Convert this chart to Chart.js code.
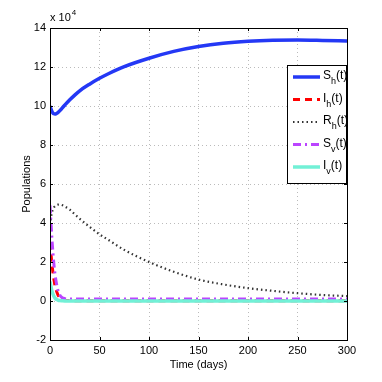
<!DOCTYPE html>
<html>
<head>
<meta charset="utf-8">
<script src="https://cdn.jsdelivr.net/npm/chart.js@4.4.1/dist/chart.umd.min.js"></script>
<style>
  html, body { margin: 0; padding: 0; background: #fff; }
  #wrap { width: 382px; height: 382px; }
</style>
</head>
<body>
<div id="wrap"><canvas id="myChart" width="382" height="382"></canvas></div>
<script>
// time points (days)
var days = [0, 1, 2, 3, 4, 5, 6, 8, 10, 12, 15, 20, 25, 30, 40, 50, 60, 75, 100, 125, 150, 175, 200, 225, 250, 275, 300];

// populations, in units of 10^4
var sh = [10.0, 9.85, 9.72, 9.64, 9.6, 9.59, 9.6, 9.66, 9.76, 9.88, 10.05, 10.32, 10.56, 10.78, 11.12, 11.42, 11.68, 12.02, 12.45, 12.8, 13.05, 13.22, 13.32, 13.37, 13.38, 13.36, 13.33];
var ih = [3.0, 2.4, 1.9, 1.45, 1.1, 0.8, 0.6, 0.32, 0.16, 0.08, 0.04, 0.02, 0.01, 0.01, 0.01, 0.01, 0.01, 0.01, 0.01, 0.01, 0.01, 0.01, 0.01, 0.01, 0.01, 0.01, 0.01];
var rh = [3.9, 4.3, 4.55, 4.7, 4.8, 4.86, 4.9, 4.94, 4.95, 4.92, 4.85, 4.68, 4.45, 4.22, 3.8, 3.42, 3.1, 2.62, 2.0, 1.5, 1.1, 0.85, 0.66, 0.52, 0.4, 0.31, 0.25];
var sv = [4.9, 4.0, 3.15, 2.45, 1.85, 1.4, 1.05, 0.55, 0.3, 0.18, 0.12, 0.1, 0.1, 0.1, 0.1, 0.1, 0.1, 0.1, 0.1, 0.1, 0.1, 0.1, 0.1, 0.1, 0.1, 0.1, 0.1];
var iv = [1.0, 0.72, 0.5, 0.35, 0.24, 0.16, 0.1, 0.05, 0.02, 0.01, 0, 0, 0, 0, 0, 0, 0, 0, 0, 0, 0, 0, 0, 0, 0, 0, 0];

var seriesNames = [['S', 'h'], ['I', 'h'], ['R', 'h'], ['S', 'v'], ['I', 'v']];
var xTicks = [0, 50, 100, 150, 200, 250, 300];
var yTicks = [-2, 0, 2, 4, 6, 8, 10, 12, 14];

var FONT = '"Liberation Sans", Arial, Helvetica, sans-serif';

function pts(vals) {
    return days.map(function(d, i){ return {x: d, y: vals[i]}; });
}

var styles = [
    {color: '#2438f5', width: 3.5, dash: []},
    {color: '#ff0000', width: 3, dash: [7, 5]},
    {color: '#333333', width: 2.2, dash: [1.5, 3]},
    {color: '#bb44ff', width: 3, dash: [8, 4, 2, 4]},
    {color: '#72f0d6', width: 3.5, dash: []}
];

var allVals = [sh, ih, rh, sv, iv];
var datasets = allVals.map(function(v, i){
    return {
        label: seriesNames[i][0] + seriesNames[i][1] + '(t)',
        data: pts(v),
        borderColor: styles[i].color,
        borderWidth: styles[i].width,
        borderDash: styles[i].dash,
        pointRadius: 0,
        fill: false,
        cubicInterpolationMode: 'monotone',
        order: 5 - i
    };
});

// box, inner ticks, exponent label and legend drawn matlab-style
var matlabLook = {
    id: 'matlabLook',
    afterDraw: function(chart){
        var c = chart.ctx, a = chart.chartArea;
        var xs = chart.scales.x, ys = chart.scales.y;
        c.save();
        c.strokeStyle = '#000';
        c.lineWidth = 1;
        c.setLineDash([]);
        c.strokeRect(a.left + 0.5, a.top + 0.5, a.right - a.left, a.bottom - a.top);
        c.beginPath();
        xTicks.forEach(function(t){
            var px = Math.round(xs.getPixelForValue(t)) + 0.5;
            c.moveTo(px, a.bottom); c.lineTo(px, a.bottom - 3);
            c.moveTo(px, a.top); c.lineTo(px, a.top + 3);
        });
        yTicks.forEach(function(t){
            var py = Math.round(ys.getPixelForValue(t)) + 0.5;
            c.moveTo(a.left, py); c.lineTo(a.left + 3, py);
            c.moveTo(a.right, py); c.lineTo(a.right - 3, py);
        });
        c.stroke();

        // x 10^4
        c.fillStyle = '#000';
        c.textBaseline = 'alphabetic';
        c.textAlign = 'left';
        c.font = '11px ' + FONT;
        c.fillText('x 10', a.left, a.top - 7);
        var w = c.measureText('x 10').width;
        c.font = '8px ' + FONT;
        c.fillText('4', a.left + w + 1, a.top - 13);

        // legend
        var lx = 287, ly = 65, lw = 59, lh = 118;
        c.fillStyle = '#fff';
        c.fillRect(lx, ly, lw, lh);
        c.strokeStyle = '#000';
        c.strokeRect(lx + 0.5, ly + 0.5, lw, lh);
        seriesNames.forEach(function(n, i){
            var yy = ly + 12 + i * 22.5;
            var st = styles[i];
            c.strokeStyle = st.color;
            c.lineWidth = st.width;
            c.setLineDash(st.dash);
            c.beginPath();
            c.moveTo(293, yy); c.lineTo(320, yy);
            c.stroke();
            c.setLineDash([]);
            c.fillStyle = '#000';
            c.font = '12px ' + FONT;
            c.fillText(n[0], 323, yy + 2);
            var w1 = c.measureText(n[0]).width;
            c.font = '9px ' + FONT;
            c.fillText(n[1], 323 + w1, yy + 7);
            var w2 = c.measureText(n[1]).width;
            c.font = '12px ' + FONT;
            c.fillText('(t)', 323 + w1 + w2, yy + 2);
        });
        c.restore();
    }
};

new Chart(document.getElementById('myChart'), {
    type: 'line',
    data: { datasets: datasets },
    plugins: [matlabLook],
    options: {
        responsive: false,
        animation: false,
        layout: { padding: { left: 0, right: 35, top: 28, bottom: 0 } },
        plugins: { legend: { display: false }, tooltip: { enabled: false } },
        scales: {
            x: {
                type: 'linear', min: 0, max: 300,
                afterBuildTicks: function(s){ s.ticks = xTicks.map(function(v){ return {value: v}; }); },
                afterFit: function(s){ s.height = 42; },
                ticks: { color: '#000', font: { family: FONT, size: 11 }, padding: 4, maxRotation: 0 },
                grid: { color: '#bbbbbb', drawTicks: false, lineWidth: 1 },
                border: { display: false, dash: [1, 3] },
                title: { display: true, text: 'Time (days)', color: '#000', font: { family: FONT, size: 11 }, padding: { top: 3, bottom: 10 } }
            },
            y: {
                min: -2, max: 14,
                afterBuildTicks: function(s){ s.ticks = yTicks.map(function(v){ return {value: v}; }); },
                afterFit: function(s){ s.width = 50; },
                ticks: { color: '#000', font: { family: FONT, size: 11 }, padding: 4 },
                grid: { color: '#bbbbbb', drawTicks: false, lineWidth: 1 },
                border: { display: false, dash: [1, 3] },
                title: { display: true, text: 'Populations', color: '#000', font: { family: FONT, size: 11 }, padding: { top: 20, bottom: 0 } }
            }
        }
    }
});
</script>
</body>
</html>
